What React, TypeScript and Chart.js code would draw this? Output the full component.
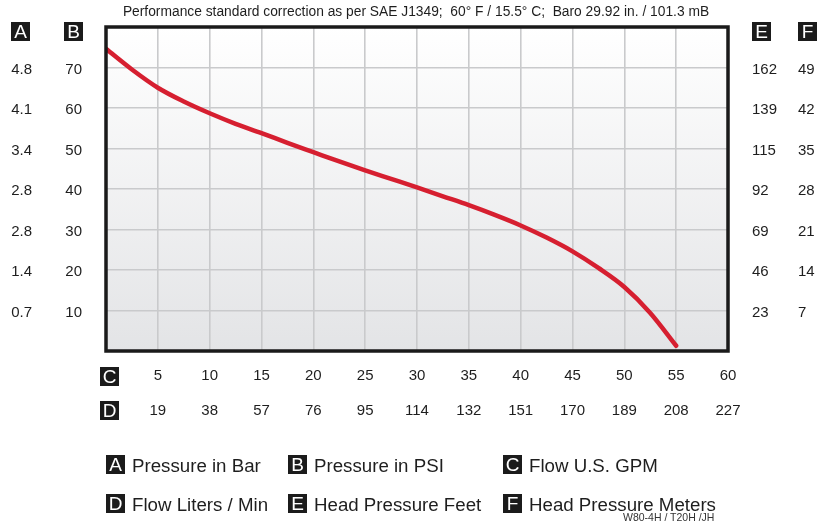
import React, { useEffect, useRef } from 'react';
import { Chart, registerables } from 'chart.js';

Chart.register(...registerables);

// ---- data ----
const flowGpm = [0, 2.5, 5, 7.5, 10, 12.5, 15, 17.5, 20, 22.5, 25, 27.5, 30, 32.5, 35, 37.5, 40, 42.5, 45, 47.5, 50, 52.5, 55];
const pressurePsi = [74.6, 69.5, 65.0, 61.6, 58.7, 56.1, 53.8, 51.4, 49.1, 46.8, 44.6, 42.5, 40.4, 38.2, 36.0, 33.6, 31.0, 28.0, 24.6, 20.5, 15.8, 9.4, 1.3];

const aLabels = ['0.7', '1.4', '2.8', '2.8', '3.4', '4.1', '4.8'];
const bLabels = ['10', '20', '30', '40', '50', '60', '70'];
const eLabels = ['23', '46', '69', '92', '115', '139', '162'];
const fLabels = ['7', '14', '21', '28', '35', '42', '49'];
const cLabels = ['5', '10', '15', '20', '25', '30', '35', '40', '45', '50', '55', '60'];
const dLabels = ['19', '38', '57', '76', '95', '114', '132', '151', '170', '189', '208', '227'];

const titleText = 'Performance standard correction as per SAE J1349;  60\u00B0 F / 15.5\u00B0 C;  Baro 29.92 in. / 101.3 mB';
const legendItems = [
  { key: 'A', text: 'Pressure in Bar' },
  { key: 'B', text: 'Pressure in PSI' },
  { key: 'C', text: 'Flow U.S. GPM' },
  { key: 'D', text: 'Flow Liters / Min' },
  { key: 'E', text: 'Head Pressure Feet' },
  { key: 'F', text: 'Head Pressure Meters' },
];
const footnote = 'W80-4H / T20H /JH';

const FONT = '"Liberation Sans", Arial, Helvetica, sans-serif';
const TEXT = '#1e1e1e';

const yLabel = (labels: string[]) => (v: any) => {
  const i = Math.round(Number(v) / 10) - 1;
  return i >= 0 && i < labels.length ? labels[i] : '';
};
const xLabel = (labels: string[]) => (v: any) => {
  const i = Math.round(Number(v) / 5) - 1;
  return i >= 0 && i < labels.length ? labels[i] : '';
};

const frame = {
  id: 'frame',
  beforeDraw(chart: any) {
    const { ctx, chartArea: a } = chart;
    const g = ctx.createLinearGradient(0, a.top, 0, a.bottom);
    g.addColorStop(0, '#ffffff');
    g.addColorStop(1, '#e3e4e6');
    ctx.save();
    ctx.fillStyle = g;
    ctx.fillRect(a.left, a.top, a.right - a.left, a.bottom - a.top);
    ctx.restore();
  },
  afterDatasetsDraw(chart: any) {
    const { ctx, chartArea: a } = chart;
    ctx.save();
    ctx.strokeStyle = '#1a1a1a';
    ctx.lineWidth = 3.5;
    ctx.strokeRect(a.left, a.top, a.right - a.left, a.bottom - a.top);
    ctx.restore();
  },
};

// offset = distance between chart-side edge of the axis box and the label (done with invisible tick marks)
function yAxis(position: 'left' | 'right', weight: number, width: number, offset: number, labels: string[], grid: boolean) {
  return {
    type: 'linear',
    position,
    weight,
    min: 0,
    max: 80,
    afterFit: (s: any) => { s.width = width; },
    grid: {
      display: true,
      drawOnChartArea: grid,
      drawTicks: true,
      tickLength: offset,
      tickColor: 'rgba(0,0,0,0)',
      color: '#c9cacc',
      lineWidth: 1.6,
    },
    border: { display: false },
    ticks: {
      stepSize: 10,
      autoSkip: false,
      padding: 0,
      crossAlign: 'near',
      labelOffset: 2,
      color: TEXT,
      font: { family: FONT, size: 15 },
      callback: yLabel(labels),
    },
  };
}

function xAxis(weight: number, labels: string[], grid: boolean) {
  return {
    type: 'linear',
    position: 'bottom',
    weight,
    min: 0,
    max: 60,
    afterFit: (s: any) => { s.height = 35; },
    grid: {
      display: true,
      drawOnChartArea: grid,
      drawTicks: true,
      tickLength: 16,
      tickColor: 'rgba(0,0,0,0)',
      color: '#c9cacc',
      lineWidth: 1.6,
    },
    border: { display: false },
    ticks: {
      stepSize: 5,
      autoSkip: false,
      maxRotation: 0,
      padding: 0,
      color: TEXT,
      font: { family: FONT, size: 15 },
      callback: xLabel(labels),
    },
  };
}

const Box = ({ k, left, top, size = 19 }: { k: string; left: number; top: number; size?: number }) => (
  <span
    style={{
      position: 'absolute',
      left,
      top,
      width: size,
      height: size,
      background: '#1b1b1b',
      color: '#ffffff',
      fontFamily: FONT,
      fontSize: 19,
      lineHeight: size + 'px',
      textAlign: 'center',
    }}
  >
    {k}
  </span>
);

export default function App() {
  const ref = useRef<HTMLCanvasElement | null>(null);

  useEffect(() => {
    if (!ref.current) return;
    const chart = new Chart(ref.current, {
      type: 'line',
      data: {
        datasets: [
          {
            data: flowGpm.map((x, i) => ({ x, y: pressurePsi[i] })),
            borderColor: '#d61f30',
            borderWidth: 4.5,
            borderCapStyle: 'round',
            pointRadius: 0,
            cubicInterpolationMode: 'monotone',
            xAxisID: 'x',
            yAxisID: 'yB',
          } as any,
        ],
      },
      options: {
        animation: false,
        responsive: false,
        devicePixelRatio: 1,
        layout: { padding: { top: 27, bottom: 104, left: 0, right: 0 } },
        plugins: { legend: { display: false }, title: { display: false }, tooltip: { enabled: false } },
        scales: {
          yA: yAxis('left', 2, 60, 28, aLabels, false),
          yB: yAxis('left', 1, 46, 24, bLabels, true),
          yE: yAxis('right', 1, 50, 24, eLabels, false),
          yF: yAxis('right', 2, 52, 20, fLabels, false),
          x: xAxis(1, cLabels, true),
          xD: xAxis(2, dLabels, false),
        } as any,
      },
      plugins: [frame],
    });
    return () => chart.destroy();
  }, []);

  const legendX = [106, 288, 503];
  const legendY = [455, 494];

  return (
    <div style={{ position: 'absolute', left: 0, top: 0, width: 830, height: 525, background: '#ffffff', overflow: 'hidden' }}>
      <canvas ref={ref} width={830} height={525} style={{ position: 'absolute', left: 0, top: 0, width: 830, height: 525 }} />
      <div
        style={{
          position: 'absolute',
          left: 0,
          width: 832,
          top: 4,
          textAlign: 'center',
          fontFamily: FONT,
          fontSize: 13.8,
          color: TEXT,
          whiteSpace: 'pre',
        }}
      >
        {titleText}
      </div>
      <Box k="A" left={11} top={22} />
      <Box k="B" left={64} top={22} />
      <Box k="E" left={752} top={22} />
      <Box k="F" left={798} top={22} />
      <Box k="C" left={100} top={367} />
      <Box k="D" left={100} top={401} />
      {legendItems.map((it, i) => {
        const col = i % 3;
        const row = Math.floor(i / 3);
        return (
          <div key={it.key} style={{ position: 'absolute', left: legendX[col], top: legendY[row], height: 20 }}>
            <Box k={it.key} left={0} top={0} />
            <span
              style={{
                position: 'absolute',
                left: 26,
                top: 0,
                whiteSpace: 'pre',
                fontFamily: FONT,
                fontSize: 18.7,
                lineHeight: '22px',
                color: TEXT,
              }}
            >
              {it.text}
            </span>
          </div>
        );
      })}
      <div
        style={{
          position: 'absolute',
          left: 623,
          top: 511,
          fontFamily: FONT,
          fontSize: 10.5,
          color: '#333333',
          whiteSpace: 'pre',
        }}
      >
        {footnote}
      </div>
    </div>
  );
}
